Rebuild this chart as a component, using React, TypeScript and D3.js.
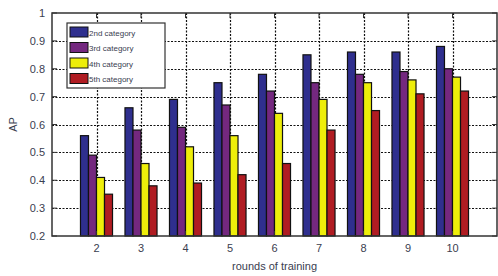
import React, { useEffect, useRef } from 'react';
import * as d3 from 'd3';

// rounds of training on the x axis
const rounds = [2, 3, 4, 5, 6, 7, 8, 9, 10];
const seriesNames = ['2nd category', '3rd category', '4th category', '5th category'];
const seriesColors = ['#2f2f8e', '#74287f', '#eeee0a', '#b01c22'];

const cat2 = [0.56, 0.66, 0.69, 0.75, 0.78, 0.85, 0.86, 0.86, 0.88];
const cat3 = [0.49, 0.58, 0.59, 0.67, 0.72, 0.75, 0.78, 0.79, 0.80];
const cat4 = [0.41, 0.46, 0.52, 0.56, 0.64, 0.69, 0.75, 0.76, 0.77];
const cat5 = [0.35, 0.38, 0.39, 0.42, 0.46, 0.58, 0.65, 0.71, 0.72];

const yTicks = [0.2, 0.3, 0.4, 0.5, 0.6, 0.7, 0.8, 0.9, 1];

const App: React.FC = () => {
  const svgRef = useRef<SVGSVGElement>(null);
  const width = 498;
  const height = 276;

  useEffect(() => {
    if (!svgRef.current) return;
    const svg = d3.select(svgRef.current);
    svg.selectAll('*').remove();

    const margin = { top: 13, right: 1, bottom: 40, left: 52 };
    const x = d3.scaleLinear().domain([1, 11]).range([margin.left, width - margin.right]);
    const y = d3.scaleLinear().domain([0.2, 1]).range([height - margin.bottom, margin.top]);
    const series = [cat2, cat3, cat4, cat5];

    const step = x(2) - x(1);
    const groupW = step * 0.72;
    const inner = d3.scaleBand<number>().domain([0, 1, 2, 3]).range([-groupW / 2, groupW / 2]);

    svg.append('rect')
      .attr('x', 0).attr('y', 0).attr('width', width).attr('height', height)
      .attr('fill', '#fff');

    // grid
    const grid = svg.append('g').attr('stroke', '#111').attr('stroke-width', 1.2)
      .attr('stroke-dasharray', '2,1.5');
    yTicks.slice(1, -1).forEach(t => {
      grid.append('line')
        .attr('x1', x(1)).attr('x2', x(11))
        .attr('y1', Math.round(y(t)) + 0.5).attr('y2', Math.round(y(t)) + 0.5);
    });
    rounds.forEach(r => {
      grid.append('line')
        .attr('x1', Math.round(x(r)) + 0.5).attr('x2', Math.round(x(r)) + 0.5)
        .attr('y1', y(1)).attr('y2', y(0.2));
    });

    // bars
    series.forEach((vals, si) => {
      svg.append('g').selectAll('rect')
        .data(vals)
        .enter()
        .append('rect')
        .attr('x', (d, i) => x(rounds[i]) + (inner(si) as number))
        .attr('y', d => y(d))
        .attr('width', inner.bandwidth())
        .attr('height', d => y(0.2) - y(d))
        .attr('fill', seriesColors[si])
        .attr('stroke', '#111')
        .attr('stroke-width', 1.2);
    });

    // axes box
    svg.append('rect')
      .attr('x', x(1)).attr('y', y(1))
      .attr('width', x(11) - x(1)).attr('height', y(0.2) - y(1))
      .attr('fill', 'none').attr('stroke', '#333').attr('stroke-width', 1.5);

    // ticks
    const ticks = svg.append('g').attr('stroke', '#333').attr('stroke-width', 1);
    rounds.forEach(r => {
      ticks.append('line').attr('x1', x(r)).attr('x2', x(r)).attr('y1', y(0.2)).attr('y2', y(0.2) - 5);
      ticks.append('line').attr('x1', x(r)).attr('x2', x(r)).attr('y1', y(1)).attr('y2', y(1) + 5);
    });
    yTicks.forEach(t => {
      ticks.append('line').attr('x1', x(1)).attr('x2', x(1) + 5).attr('y1', y(t)).attr('y2', y(t));
      ticks.append('line').attr('x1', x(11)).attr('x2', x(11) - 5).attr('y1', y(t)).attr('y2', y(t));
    });

    // tick labels
    svg.append('g').selectAll('text')
      .data(yTicks)
      .enter()
      .append('text')
      .attr('x', x(1) - 7)
      .attr('y', d => y(d) + 4)
      .attr('text-anchor', 'end')
      .attr('font-family', 'Liberation Sans, Arial, sans-serif')
      .attr('font-size', '11px')
      .attr('fill', '#3a4050')
      .text(d => d3.format('~g')(d));

    svg.append('g').selectAll('text')
      .data(rounds)
      .enter()
      .append('text')
      .attr('x', d => x(d))
      .attr('y', y(0.2) + 16)
      .attr('text-anchor', 'middle')
      .attr('font-family', 'Liberation Sans, Arial, sans-serif')
      .attr('font-size', '11px')
      .attr('fill', '#3a4050')
      .text(d => String(d));

    // axis titles
    svg.append('text')
      .attr('x', (x(1) + x(11)) / 2)
      .attr('y', 270)
      .attr('text-anchor', 'middle')
      .attr('font-family', 'Liberation Sans, Arial, sans-serif')
      .attr('font-size', '11px')
      .attr('fill', '#3a4050')
      .text('rounds of training');

    svg.append('text')
      .attr('transform', `translate(17, ${(y(1) + y(0.2)) / 2}) rotate(-90)`)
      .attr('text-anchor', 'middle')
      .attr('font-family', 'Liberation Sans, Arial, sans-serif')
      .attr('font-size', '11px')
      .attr('fill', '#3a4050')
      .text('AP');

    // legend
    const legend = svg.append('g').attr('transform', 'translate(67, 23)');
    legend.append('rect')
      .attr('x', 0).attr('y', 0).attr('width', 98).attr('height', 65)
      .attr('fill', '#fff').attr('stroke', '#333').attr('stroke-width', 1.2);
    seriesNames.forEach((name, i) => {
      legend.append('rect')
        .attr('x', 3).attr('y', 4 + i * 15.5)
        .attr('width', 18).attr('height', 10)
        .attr('fill', seriesColors[i]).attr('stroke', '#111').attr('stroke-width', 1);
      legend.append('text')
        .attr('x', 22).attr('y', 12.5 + i * 15.5)
        .attr('font-family', 'Liberation Sans, Arial, sans-serif')
        .attr('font-size', '8px')
        .attr('fill', '#3a4050')
        .text(name);
    });
  }, []);

  return (
    <svg
      ref={svgRef}
      width={width}
      height={height}
      style={{ position: 'absolute', left: 0, top: 0 }}
    />
  );
};

export default App;
